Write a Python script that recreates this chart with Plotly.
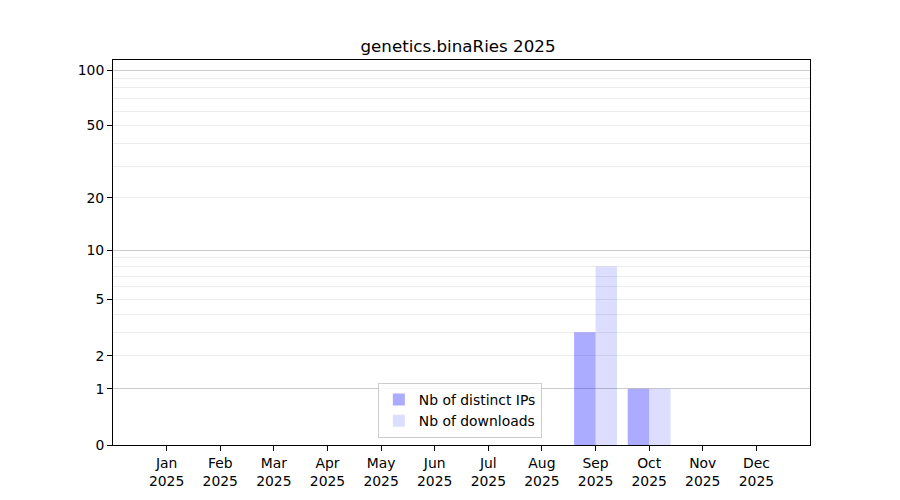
import numpy as np
import plotly.graph_objects as go

months = ["Jan", "Feb", "Mar", "Apr", "May", "Jun", "Jul", "Aug", "Sep", "Oct", "Nov", "Dec"]
year = "2025"
distinct_ips = [0, 0, 0, 0, 0, 0, 0, 0, 3, 1, 0, 0]
downloads = [0, 0, 0, 0, 0, 0, 0, 0, 8, 1, 0, 0]
y_ticks = [0, 1, 2, 5, 10, 20, 50, 100]
y_minor = [2, 3, 4, 5, 6, 7, 8, 9, 20, 30, 40, 50, 60, 70, 80, 90]
y_major_grid = [1, 10, 100]


def tr(v):
    # log(1 + y) scale, like the original symlog-ish axis
    return np.log10(1 + np.asarray(v, dtype=float))


x = list(range(len(months)))
font = "DejaVu Sans"

fig = go.Figure()
fig.add_trace(go.Bar(x=x, y=tr(distinct_ips), name="Nb of distinct IPs",
                     marker=dict(color="rgba(0,0,255,0.33)", line_width=0)))
fig.add_trace(go.Bar(x=x, y=tr(downloads), name="Nb of downloads",
                     marker=dict(color="rgba(0,0,255,0.135)", line_width=0)))
# empty trace so the overlay axis with the darker grid lines gets drawn
fig.add_trace(go.Scatter(x=[None], y=[None], yaxis="y2", showlegend=False, hoverinfo="skip"))

y_range = [0, 2.058]
fig.update_layout(
    width=900, height=500,
    margin=dict(l=105, r=98, t=52, b=63),
    paper_bgcolor="white", plot_bgcolor="white",
    font=dict(family=font, size=13.9, color="black"),
    title=dict(text="genetics.binaRies 2025", x=0.5, xanchor="center", y=0.924, yanchor="middle",
               font=dict(size=16.7)),
    barmode="group", bargap=0.2, bargroupgap=0,
    xaxis=dict(range=[-1, 12], tickmode="array", tickvals=x,
               ticktext=[f"{m}<br>{year}" for m in months],
               showgrid=False, zeroline=False, showline=True, linecolor="black", linewidth=1,
               mirror=True, ticks="outside", ticklen=5, tickcolor="black"),
    yaxis=dict(range=y_range, tickmode="array", tickvals=tr(y_ticks),
               ticktext=[str(t) for t in y_ticks],
               showgrid=True, gridcolor="#ececec", gridwidth=1, zeroline=False,
               showline=True, linecolor="black", linewidth=1, mirror=True,
               ticks="outside", ticklen=5, tickcolor="black",
               minor=dict(tickmode="array", tickvals=tr(y_minor), showgrid=True,
                          gridcolor="#ececec", gridwidth=1, ticklen=0)),
    yaxis2=dict(range=y_range, overlaying="y", tickmode="array", tickvals=tr(y_major_grid),
                showticklabels=False, showgrid=True, gridcolor="#cccccc", gridwidth=1,
                zeroline=False, showline=False, ticks=""),
    legend=dict(x=0.38, y=0.018, xanchor="left", yanchor="bottom",
                bgcolor="rgba(255,255,255,0.8)", bordercolor="#cccccc", borderwidth=1,
                font=dict(size=13.9), tracegroupgap=0, itemwidth=30),
)

fig.write_html("out.html")
